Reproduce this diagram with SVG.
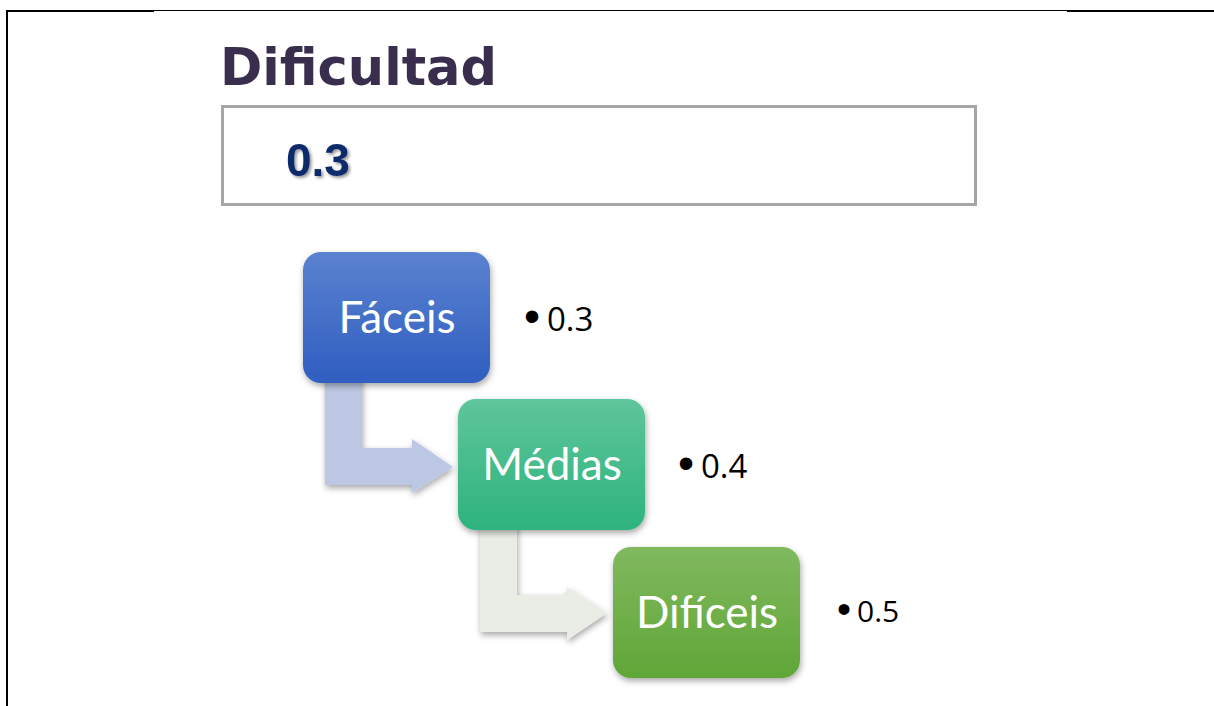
<svg xmlns="http://www.w3.org/2000/svg" width="1214" height="706" viewBox="0 0 1214 706">
<defs>
<style>
.lbl{font-family:Lato,"Open Sans","Liberation Sans",sans-serif;font-size:44px;fill:#fff;text-anchor:middle}
.num{font-family:"Open Sans","Liberation Sans",sans-serif;font-size:33px;fill:#000}
.dot{font-family:"Liberation Sans",sans-serif;font-size:46px;fill:#000;text-anchor:middle}
</style>
<linearGradient id="gb" x1="0" y1="0" x2="0" y2="1"><stop offset="0" stop-color="#5b82d0"/><stop offset="1" stop-color="#2f5ec0"/></linearGradient>
<linearGradient id="gg" x1="0" y1="0" x2="0" y2="1"><stop offset="0" stop-color="#5fc59b"/><stop offset="1" stop-color="#2db37e"/></linearGradient>
<linearGradient id="gl" x1="0" y1="0" x2="0" y2="1"><stop offset="0" stop-color="#80b95f"/><stop offset="1" stop-color="#60a637"/></linearGradient>
<filter id="sh" x="-20%" y="-20%" width="140%" height="140%"><feDropShadow dx="1" dy="3" stdDeviation="3" flood-color="#000" flood-opacity="0.35"/></filter>
<filter id="ts" x="-10%" y="-10%" width="130%" height="130%"><feDropShadow dx="2" dy="2" stdDeviation="1.5" flood-color="#000" flood-opacity="0.4"/></filter>
</defs>
<rect width="1214" height="706" fill="#fff"/>
<g id="frame">
<line x1="6" y1="11" x2="154" y2="11" stroke="#000" stroke-width="2"/>
<line x1="154" y1="10.5" x2="1067" y2="10.5" stroke="#000" stroke-width="1"/>
<line x1="1067" y1="11" x2="1214" y2="11" stroke="#000" stroke-width="2"/>
<line x1="7" y1="10" x2="7" y2="706" stroke="#000" stroke-width="2"/>
</g>
<g id="title">
<text x="220" y="85" font-family="'DejaVu Sans',sans-serif" font-weight="bold" font-size="51" fill="#3a2e4e">Dificultad</text>
</g>
<g id="valuebox">
<rect x="222.5" y="106.5" width="753" height="98" fill="#fff" stroke="#a6a6a6" stroke-width="3"/>
<text x="286" y="176" font-family="'Liberation Sans',Arial,sans-serif" font-weight="bold" font-size="46" fill="#0d2a6b" filter="url(#ts)">0.3</text>
</g>
<g id="connectors">
<path d="M325,375 H362 V448 H412 V439 L453,467 L412,493 V485 H325 Z" fill="#bcc7e3" filter="url(#sh)"/>
<path d="M480,522 H517 V595 H567 V587 L607,613 L567,640 V632 H480 Z" fill="#e9ede6" filter="url(#sh)"/>
</g>
<g id="node-faceis">
<rect x="303" y="252" width="187" height="131" rx="18" fill="url(#gb)" filter="url(#sh)"/>
<text class="lbl" x="397" y="333">Fáceis</text>
</g>
<g id="node-medias">
<rect x="458" y="399" width="187" height="131" rx="18" fill="url(#gg)" filter="url(#sh)"/>
<text class="lbl" x="552" y="480">Médias</text>
</g>
<g id="node-dificeis">
<rect x="613" y="547" width="187" height="131" rx="18" fill="url(#gl)" filter="url(#sh)"/>
<text class="lbl" x="707" y="628">Difíceis</text>
</g>
<g id="bullets">
<text class="dot" x="532" y="332">•</text><text class="num" x="547" y="331">0.3</text>
<text class="dot" x="686" y="479">•</text><text class="num" x="701" y="478">0.4</text>
<text class="dot" x="844" y="623" style="font-size:40px">•</text><text class="num" x="857" y="622" style="font-size:30px">0.5</text>
</g>
</svg>
